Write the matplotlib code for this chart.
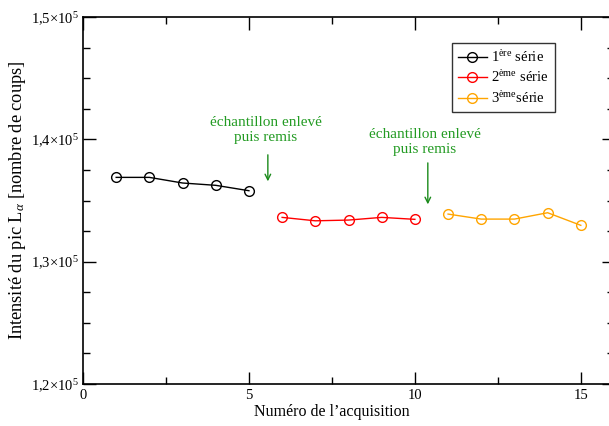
import matplotlib
matplotlib.use("Agg")
import matplotlib.pyplot as plt
from matplotlib.ticker import MultipleLocator, FuncFormatter

plt.rcParams["font.family"] = ["Liberation Serif", "DejaVu Serif"]
plt.rcParams["mathtext.fontset"] = "custom"
plt.rcParams["mathtext.rm"] = "Liberation Serif"
plt.rcParams["mathtext.it"] = "Liberation Serif:italic"

# acquisitions
x1 = [1, 2, 3, 4, 5]
x2 = [6, 7, 8, 9, 10]
x3 = [11, 12, 13, 14, 15]

# peak intensities (counts)
y1 = [136890, 136890, 136430, 136240, 135800]
y2 = [133620, 133340, 133400, 133620, 133460]
y3 = [133890, 133480, 133480, 134000, 132970]

labels = [r"1$^{\mathrm{ère}}$ série", r"2$^{\mathrm{ème}}$ série", r"3$^{\mathrm{ème}}$série"]
colors = ["black", "red", "orange"]

# annotation: text position and arrow start/end (x, y)
note = "échantillon enlevé\npuis remis"
notes = [
    ((5.5, 140800), (5.57, 138960), (5.57, 136340)),
    ((10.3, 139820), (10.39, 138300), (10.39, 134460)),
]

fig = plt.figure(figsize=(6.09, 4.26), dpi=100)
ax = fig.add_axes([83 / 609, 42 / 426, 531 / 609, 367 / 426])

for xs, ys, lab, c in zip([x1, x2, x3], [y1, y2, y3], labels, colors):
    ax.plot(xs, ys, color=c, marker="o", markersize=7, markerfacecolor="none",
            markeredgewidth=1, linewidth=1, label=lab)

for (tx, ty), (ax0, ay0), (ax1, ay1) in notes:
    ax.text(tx, ty, note, color="#239b23", fontsize=11, ha="center", va="center",
            linespacing=1.2)
    ax.annotate("", xy=(ax1, ay1), xytext=(ax0, ay0),
                arrowprops=dict(arrowstyle="->", color="#1a8a1a", lw=1))

ax.set_xlim(0, 16)
ax.set_ylim(120000, 150000)
ax.xaxis.set_major_locator(MultipleLocator(5))
ax.xaxis.set_minor_locator(MultipleLocator(2.5))
ax.yaxis.set_major_locator(MultipleLocator(10000))
ax.yaxis.set_minor_locator(MultipleLocator(2500))


def yfmt(v, pos):
    return r"%s$\times$10$^{5}$" % ("%.1f" % (v / 1e5)).replace(".", ",")


ax.yaxis.set_major_formatter(FuncFormatter(yfmt))
ax.tick_params(which="both", direction="in", top=True, right=True, labelsize=10.5)
ax.tick_params(which="major", length=9, width=1)
ax.tick_params(which="minor", length=5, width=1)
ax.tick_params(axis="y", pad=3)
for s in ax.spines.values():
    s.set_linewidth(1.2)

ax.set_xlabel("Numéro de l’acquisition", fontsize=11.5)
ax.xaxis.set_label_coords((332 - 83) / 531, -20 / 367)
ax.set_ylabel(r"Intensité du pic L$_{\alpha}$ [nombre de coups]", fontsize=13.2)
ax.yaxis.set_label_coords(-55 / 531, 0.5)

leg = ax.legend(loc="upper left", bbox_to_anchor=((452 - 83) / 531, 1 - 26 / 367),
                fontsize=10.5, frameon=True, fancybox=False, edgecolor="black",
                handlelength=2.0, handletextpad=0.3, borderpad=0.4, labelspacing=0.33,
                borderaxespad=0)
leg.get_frame().set_linewidth(1)

fig.savefig("out.png", dpi=100)
